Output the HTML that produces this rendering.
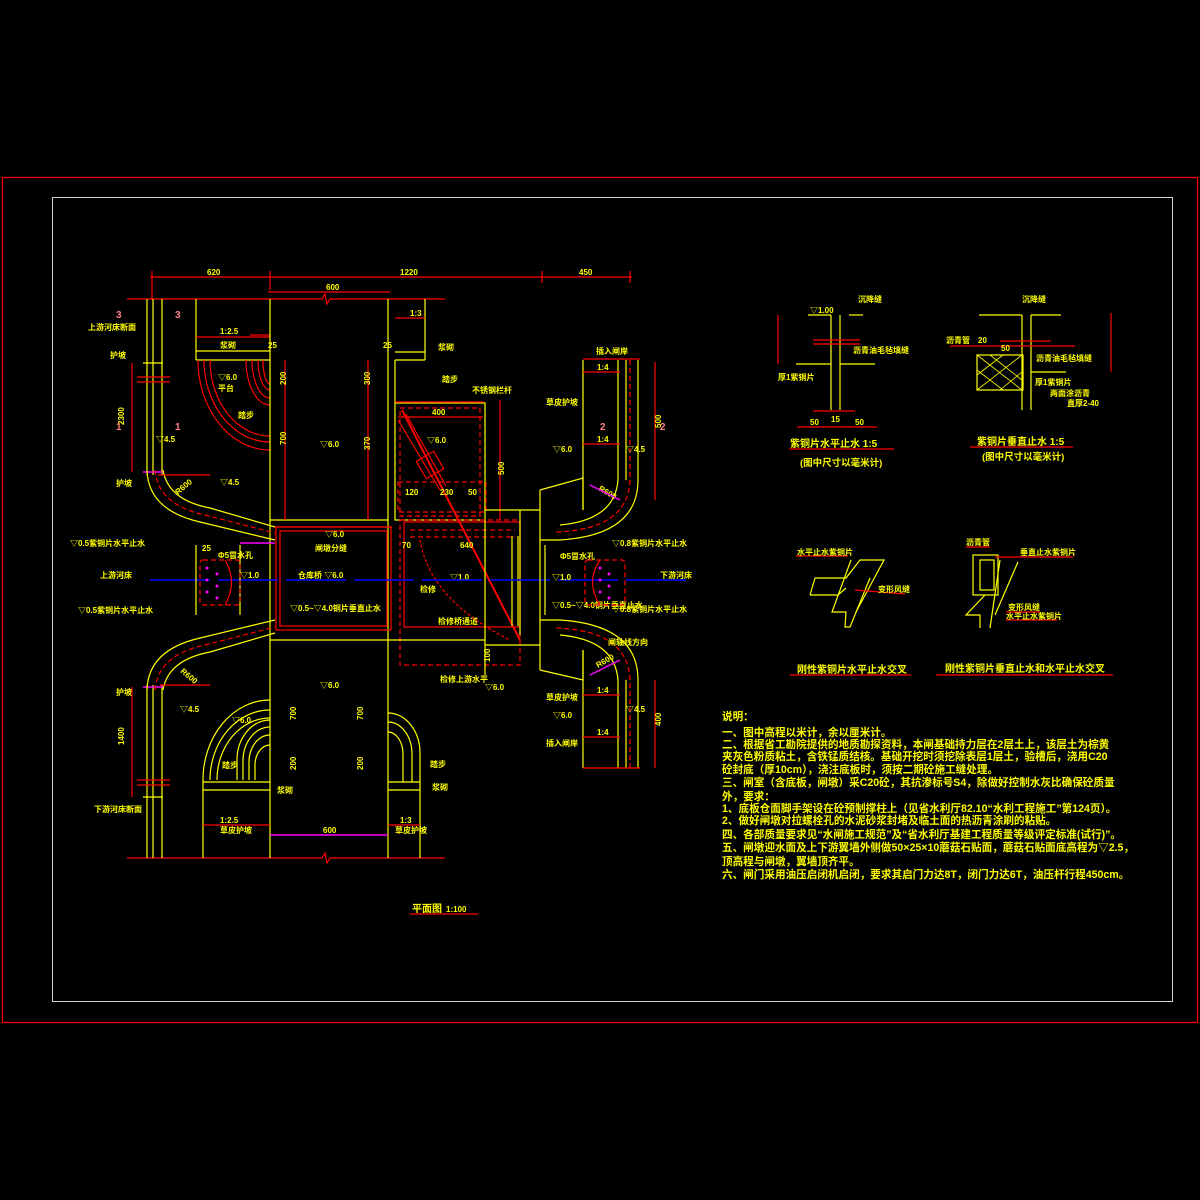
<!DOCTYPE html>
<html><head><meta charset="utf-8"><style>
html,body{margin:0;padding:0;background:#000;}
svg{display:block}
text{font-family:"Liberation Sans","Noto Sans CJK SC",sans-serif;font-weight:bold;}
.y{stroke:#ffff00;fill:none;stroke-width:1.2}
.r{stroke:#ff0000;fill:none;stroke-width:1.2}
.rd{stroke:#ff0000;fill:none;stroke-width:1.2;stroke-dasharray:5 3}
.m{stroke:#ff00ff;fill:none;stroke-width:1.5}
.b{stroke:#0000ff;fill:none;stroke-width:1.6}
.t{fill:#ffff00;font-size:8px}
.tp{fill:#ff8080;font-size:10px}
.n{fill:#ffff00;font-size:10.6px}
</style></head><body>
<svg width="1200" height="1200" viewBox="0 0 1200 1200" xmlns="http://www.w3.org/2000/svg">
<rect x="0" y="0" width="1200" height="1200" fill="#000"/>
<rect x="2.5" y="177.5" width="1195" height="845" fill="none" stroke="#ff0000" stroke-width="1.2"/>
<rect x="52.5" y="197.5" width="1120" height="804" fill="none" stroke="#d0d0d0" stroke-width="1"/>

<!-- top dims -->
<line class="r" x1="150" y1="277" x2="632" y2="277"/>
<g class="r"><line x1="152" y1="271" x2="152" y2="300"/><line x1="270" y1="271" x2="270" y2="290"/><line x1="542" y1="271" x2="542" y2="283"/><line x1="630" y1="271" x2="630" y2="283"/></g>
<text class="t" x="207" y="275">620</text><text class="t" x="400" y="275">1220</text><text class="t" x="579" y="275">450</text>
<line class="r" x1="268" y1="292" x2="390" y2="292"/><text class="t" x="326" y="290">600</text>
<polyline class="r" points="127,299 322,299 325,294 327,304 330,299 445,299"/>
<polyline class="r" points="127,858 322,858 325,853 327,863 330,858 445,858"/>

<!-- left channel -->
<g class="y"><line x1="147" y1="299" x2="147" y2="475"/><line x1="153" y1="299" x2="153" y2="475"/><line x1="162" y1="299" x2="162" y2="475"/>
<line x1="147" y1="685" x2="147" y2="858"/><line x1="153" y1="685" x2="153" y2="858"/><line x1="162" y1="685" x2="162" y2="858"/>
<line x1="143" y1="363" x2="163" y2="363"/><line x1="143" y1="797" x2="163" y2="797"/></g>
<g class="r"><line x1="137" y1="377" x2="170" y2="377"/><line x1="137" y1="382" x2="170" y2="382"/><line x1="137" y1="780" x2="170" y2="780"/><line x1="137" y1="785" x2="170" y2="785"/>
<line x1="132" y1="363" x2="132" y2="472"/><line x1="132" y1="687" x2="132" y2="797"/></g>
<line class="m" x1="143" y1="472" x2="163" y2="472"/><line class="m" x1="143" y1="687" x2="163" y2="687"/>
<text class="t" x="124" y="425" transform="rotate(-90 124 425)">2300</text>
<text class="t" x="124" y="745" transform="rotate(-90 124 745)">1400</text>
<text class="tp" x="116" y="318">3</text><text class="tp" x="175" y="318">3</text>
<text class="tp" x="116" y="430">1</text><text class="tp" x="175" y="430">1</text>
<text class="t" x="88" y="330">上游河床断面</text><text class="t" x="110" y="358">护坡</text>
<text class="t" x="116" y="486">护坡</text><text class="t" x="116" y="695">护坡</text><text class="t" x="94" y="812">下游河床断面</text>
<text class="t" x="156" y="442">▽4.5</text><text class="t" x="220" y="485">▽4.5</text><text class="t" x="180" y="712">▽4.5</text>

<!-- upper-left wing box -->
<g class="y"><line x1="196" y1="299" x2="196" y2="360"/><line x1="196" y1="351" x2="270" y2="351"/><line x1="196" y1="360" x2="270" y2="360"/></g>
<line class="r" x1="196" y1="337" x2="270" y2="337"/><line class="r" x1="250" y1="335" x2="270" y2="335"/>
<text class="t" x="220" y="334">1:2.5</text><text class="t" x="220" y="348">浆砌</text>
<text class="t" x="218" y="380">▽6.0</text><text class="t" x="218" y="391">平台</text><text class="t" x="238" y="418">踏步</text>
<g class="r"><path d="M198,360 A72,90 0 0 0 270,450"/><path d="M204,360 A66,82 0 0 0 270,442"/><path d="M210,360 A60,76 0 0 0 270,436"/>
<path d="M246,360 A24,45 0 0 0 270,405"/><path d="M252,360 A18,38 0 0 0 270,398"/><path d="M258,360 A12,30 0 0 0 270,390"/><path d="M263,360 A7,24 0 0 0 270,384"/></g>

<!-- central column -->
<g class="y"><line x1="270" y1="299" x2="270" y2="858"/><line x1="388" y1="299" x2="388" y2="858"/>
<line x1="270" y1="520" x2="388" y2="520"/><line x1="270" y1="640" x2="388" y2="640"/></g>
<line class="r" x1="285" y1="360" x2="285" y2="520"/><line class="r" x1="368" y1="360" x2="368" y2="520"/>
<text class="t" x="320" y="447">▽6.0</text><text class="t" x="320" y="688">▽6.0</text>
<text class="t" x="286" y="385" transform="rotate(-90 286 385)">200</text><text class="t" x="286" y="445" transform="rotate(-90 286 445)">700</text>
<text class="t" x="370" y="385" transform="rotate(-90 370 385)">300</text><text class="t" x="370" y="450" transform="rotate(-90 370 450)">370</text>
<text class="t" x="296" y="720" transform="rotate(-90 296 720)">700</text><text class="t" x="363" y="720" transform="rotate(-90 363 720)">700</text>
<text class="t" x="296" y="770" transform="rotate(-90 296 770)">200</text><text class="t" x="363" y="770" transform="rotate(-90 363 770)">200</text>
<text class="t" x="268" y="348">25</text><text class="t" x="383" y="348">25</text>

<!-- upper right of center column -->
<g class="y"><line x1="425" y1="299" x2="425" y2="360"/><line x1="395" y1="352" x2="425" y2="352"/><line x1="395" y1="360" x2="425" y2="360"/><line x1="395" y1="360" x2="395" y2="403"/></g>
<line class="r" x1="395" y1="318" x2="425" y2="318"/><text class="t" x="410" y="316">1:3</text>
<text class="t" x="438" y="350">浆砌</text><text class="t" x="442" y="382">踏步</text><text class="t" x="472" y="393">不锈钢栏杆</text>

<!-- gate/hoist box -->
<rect class="y" x="395" y="403" width="90" height="117"/>
<line class="r" x1="395" y1="402" x2="484" y2="402" stroke-width="2.5"/>
<rect class="rd" x="400" y="408" width="80" height="108"/>
<line class="r" x1="398" y1="417" x2="483" y2="417"/><text class="t" x="432" y="415">400</text>
<text class="t" x="427" y="443">▽6.0</text>
<g class="r"><line x1="402" y1="410" x2="520" y2="640" stroke-width="2"/><line x1="398" y1="420" x2="440" y2="490"/><line x1="406" y1="414" x2="446" y2="486"/>
<rect x="420" y="455" width="20" height="20" transform="rotate(-30 430 465)"/></g>
<rect class="rd" x="398" y="482" width="88" height="30"/>
<text class="t" x="405" y="495">120</text><text class="t" x="440" y="495">230</text><text class="t" x="468" y="495">50</text>
<line class="r" x1="500" y1="400" x2="500" y2="520"/><text class="t" x="504" y="475" transform="rotate(-90 504 475)">500</text>

<!-- main chamber -->
<rect class="r" x="276" y="527" width="115" height="103" stroke-width="2"/>
<rect class="r" x="280" y="531" width="107" height="95"/>
<rect class="rd" x="400" y="520" width="120" height="145"/>
<rect class="r" x="404" y="522" width="116" height="105"/>
<line class="rd" x1="410" y1="530" x2="515" y2="530"/><line class="rd" x1="410" y1="537" x2="515" y2="537"/>
<line class="r" x1="275" y1="527" x2="392" y2="527"/>
<text class="t" x="325" y="537">▽6.0</text><text class="t" x="315" y="551">闸墩分缝</text>
<text class="t" x="298" y="578">仓库桥 ▽6.0</text><text class="t" x="290" y="611">▽0.5~▽4.0铜片垂直止水</text>
<text class="t" x="450" y="580">▽1.0</text><text class="t" x="420" y="592">检修</text><text class="t" x="438" y="624">检修桥通道</text>
<text class="t" x="460" y="548">640</text><text class="t" x="402" y="548">70</text>
<text class="t" x="440" y="682">检修上游水平</text><text class="t" x="485" y="690">▽6.0</text>
<path class="r" d="M420,540 Q430,600 510,640" stroke-dasharray="3 2"/>
<g class="y"><line x1="485" y1="520" x2="485" y2="675"/><line x1="520" y1="510" x2="520" y2="635"/>
<line x1="388" y1="640" x2="485" y2="640"/><line x1="485" y1="510" x2="540" y2="510"/><line x1="485" y1="645" x2="540" y2="645"/>
<line x1="512" y1="536" x2="512" y2="626"/><line x1="518" y1="536" x2="518" y2="626"/></g>
<text class="t" x="490" y="662" transform="rotate(-90 490 662)">100</text>

<!-- blue axis -->
<line class="b" x1="150" y1="580" x2="690" y2="580" stroke-dasharray="60 8"/>
<text class="t" x="100" y="578">上游河床</text><text class="t" x="660" y="578">下游河床</text>

<!-- left wings -->
<g class="y"><path d="M147,470 Q148,510 200,522 L275,540"/><path d="M163,470 Q168,500 210,508 L275,527"/>
<path d="M147,690 Q148,650 200,638 L275,620"/><path d="M163,690 Q168,660 210,652 L275,633"/>
<line x1="196" y1="545" x2="196" y2="615"/><line x1="240" y1="545" x2="240" y2="615"/></g>
<g class="rd"><path d="M155,470 Q158,505 205,515 L275,533"/><path d="M155,690 Q158,655 205,645 L275,627"/></g>
<line class="r" x1="158" y1="475" x2="210" y2="475"/><line class="r" x1="160" y1="685" x2="210" y2="685"/>
<text class="t" x="178" y="495" transform="rotate(-40 178 495)">R600</text><text class="t" x="180" y="672" transform="rotate(40 180 672)">R600</text>
<rect class="rd" x="200" y="560" width="40" height="45" rx="3"/>
<path class="r" d="M225,560 Q238,582 225,605"/>
<g fill="#ff00ff"><circle cx="207" cy="568" r="1.5"/><circle cx="207" cy="580" r="1.5"/><circle cx="207" cy="592" r="1.5"/><circle cx="217" cy="574" r="1.5"/><circle cx="217" cy="586" r="1.5"/><circle cx="217" cy="598" r="1.5"/></g>
<text class="t" x="218" y="558">Φ5冒水孔</text><text class="t" x="202" y="551">25</text><text class="t" x="240" y="578">▽1.0</text>
<text class="t" x="70" y="546">▽0.5紫铜片水平止水</text><text class="t" x="78" y="613">▽0.5紫铜片水平止水</text>
<line class="m" x1="240" y1="543" x2="275" y2="543"/>

<!-- lower-left wing -->
<g class="y"><path d="M203,858 L203,780 A67,80 0 0 1 270,700"/><path d="M210,780 A60,70 0 0 1 270,710"/><path d="M217,780 A53,62 0 0 1 270,718"/>
<path d="M237,780 L237,760 A33,40 0 0 1 270,720"/><path d="M243,780 L243,760 A27,34 0 0 1 270,727"/><path d="M249,780 L249,762 A21,27 0 0 1 270,735"/><path d="M255,780 L255,765 A15,20 0 0 1 270,745"/>
<line x1="203" y1="782" x2="270" y2="782"/><line x1="203" y1="790" x2="270" y2="790"/>
<path d="M388,713 A32,40 0 0 1 420,753 L420,858"/><path d="M388,722 A24,32 0 0 1 412,754 L412,782"/><path d="M388,732 A15,22 0 0 1 403,754 L403,782"/>
<line x1="388" y1="782" x2="420" y2="782"/><line x1="388" y1="790" x2="420" y2="790"/></g>
<text class="t" x="232" y="723">▽6.0</text><text class="t" x="222" y="768">踏步</text><text class="t" x="277" y="793">浆砌</text><text class="t" x="430" y="767">踏步</text><text class="t" x="432" y="790">浆砌</text>
<line class="r" x1="203" y1="825" x2="270" y2="825"/><text class="t" x="220" y="823">1:2.5</text><text class="t" x="220" y="833">草皮护坡</text>
<line class="r" x1="388" y1="825" x2="420" y2="825"/><text class="t" x="400" y="823">1:3</text><text class="t" x="395" y="833">草皮护坡</text>
<line class="m" x1="270" y1="835" x2="388" y2="835"/><text class="t" x="323" y="833">600</text>
<text class="t" x="412" y="912" style="font-size:10px">平面图</text><text class="t" x="446" y="912">1:100</text>
<line class="r" x1="410" y1="914" x2="478" y2="914"/>

<!-- right wing -->
<g class="y"><line x1="583" y1="360" x2="583" y2="510"/><line x1="626" y1="360" x2="626" y2="480"/><line x1="583" y1="650" x2="583" y2="768"/><line x1="626" y1="680" x2="626" y2="768"/>
<path d="M638,360 L638,480 Q638,535 560,540 L540,540"/><path d="M618,360 L618,480 Q615,520 560,525"/>
<path d="M638,768 L638,680 Q638,625 560,620 L540,620"/><path d="M618,768 L618,680 Q615,640 560,635"/>
<polyline points="540,490 583,478 583,510"/><polyline points="540,670 583,680 583,650"/>
<line x1="540" y1="490" x2="540" y2="670"/><line x1="545" y1="545" x2="545" y2="615"/></g>
<g class="rd"><path d="M630,360 L630,480 Q628,530 555,532"/><path d="M630,768 L630,680 Q628,630 555,628"/></g>
<line class="r" x1="583" y1="359" x2="640" y2="359"/><line class="r" x1="583" y1="768" x2="640" y2="768"/>
<line class="r" x1="583" y1="372" x2="620" y2="372"/><line class="r" x1="583" y1="444" x2="620" y2="444"/>
<line class="r" x1="583" y1="695" x2="620" y2="695"/><line class="r" x1="583" y1="737" x2="620" y2="737"/>
<text class="t" x="597" y="370">1:4</text><text class="t" x="597" y="442">1:4</text><text class="t" x="597" y="693">1:4</text><text class="t" x="597" y="735">1:4</text>
<line class="r" x1="655" y1="362" x2="655" y2="500"/><line class="r" x1="655" y1="680" x2="655" y2="768"/>
<text class="t" x="661" y="428" transform="rotate(-90 661 428)">500</text><text class="t" x="661" y="726" transform="rotate(-90 661 726)">400</text>
<text class="tp" x="600" y="430">2</text><text class="tp" x="660" y="430">2</text>
<text class="t" x="596" y="354">插入闸岸</text><text class="t" x="546" y="405">草皮护坡</text>
<text class="t" x="553" y="452">▽6.0</text><text class="t" x="626" y="452">▽4.5</text>
<text class="t" x="553" y="718">▽6.0</text><text class="t" x="626" y="712">▽4.5</text>
<text class="t" x="546" y="700">草皮护坡</text><text class="t" x="546" y="746">插入闸岸</text>
<text class="t" x="608" y="645">闸轴线方向</text>
<text class="t" x="598" y="490" transform="rotate(30 598 490)">R600</text><text class="t" x="598" y="668" transform="rotate(-30 598 668)">R600</text>
<line class="m" x1="590" y1="485" x2="620" y2="500"/><line class="m" x1="590" y1="675" x2="620" y2="660"/>
<text class="t" x="612" y="546">▽0.8紫铜片水平止水</text><text class="t" x="612" y="612">▽0.8紫铜片水平止水</text>
<text class="t" x="560" y="559">Φ5冒水孔</text><text class="t" x="552" y="580">▽1.0</text><text class="t" x="552" y="608">▽0.5~▽4.0铜片垂直止水</text>
<rect class="rd" x="585" y="560" width="40" height="45" rx="3"/>
<path class="r" d="M600,560 Q585,582 600,605"/>
<g fill="#ff00ff"><circle cx="600" cy="568" r="1.5"/><circle cx="600" cy="580" r="1.5"/><circle cx="600" cy="592" r="1.5"/><circle cx="609" cy="574" r="1.5"/><circle cx="609" cy="586" r="1.5"/><circle cx="609" cy="598" r="1.5"/></g>

<!-- detail 1 -->
<g class="y"><line x1="831" y1="315" x2="831" y2="410"/><line x1="840" y1="315" x2="840" y2="410"/><line x1="808" y1="315" x2="831" y2="315"/><line x1="849" y1="315" x2="863" y2="315"/>
<line x1="796" y1="364" x2="831" y2="364"/><line x1="840" y1="364" x2="875" y2="364"/></g>
<line class="r" x1="813" y1="340" x2="860" y2="340"/><line class="r" x1="813" y1="344" x2="860" y2="344"/><line class="r" x1="813" y1="411" x2="855" y2="411"/>
<line class="r" x1="797" y1="427" x2="877" y2="427"/><line class="r" x1="778" y1="315" x2="778" y2="364"/>
<text class="t" x="810" y="313">▽1.00</text><text class="t" x="858" y="302">沉降缝</text><text class="t" x="853" y="353">沥青油毛毡填缝</text><text class="t" x="778" y="380">厚1紫铜片</text>
<text class="t" x="810" y="425">50</text><text class="t" x="831" y="422">15</text><text class="t" x="855" y="425">50</text>
<text class="t" x="790" y="447" style="font-size:10px">紫铜片水平止水 1:5</text><line class="r" x1="789" y1="449" x2="894" y2="449"/>
<text class="t" x="800" y="466" style="font-size:9.5px">(图中尺寸以毫米计)</text>

<!-- detail 2 -->
<g class="y"><line x1="1022" y1="315" x2="1022" y2="410"/><line x1="1031" y1="315" x2="1031" y2="410"/><line x1="979" y1="315" x2="1022" y2="315"/><line x1="1031" y1="315" x2="1061" y2="315"/>
<rect x="977" y="355" width="46" height="35"/><line x1="1031" y1="372" x2="1066" y2="372"/></g>
<path d="M977,355 L1022,390 M990,355 L1022,380 M977,370 L1003,390 M977,390 L1022,355 M977,375 L1003,355 M1000,390 L1022,372" stroke="#ff0" stroke-width="0.8"/>
<line class="r" x1="1000" y1="341" x2="1051" y2="341"/><line class="r" x1="950" y1="346" x2="1075" y2="346"/><line class="r" x1="1111" y1="313" x2="1111" y2="372"/>
<text class="t" x="1022" y="302">沉降缝</text><text class="t" x="946" y="343">沥青管</text><text class="t" x="978" y="343">20</text><text class="t" x="1001" y="351">50</text>
<text class="t" x="1036" y="361">沥青油毛毡填缝</text><text class="t" x="1035" y="385">厚1紫铜片</text><text class="t" x="1050" y="396">两面涂沥青</text><text class="t" x="1067" y="406">直厚2-40</text>
<text class="t" x="977" y="445" style="font-size:10px">紫铜片垂直止水 1:5</text><line class="r" x1="970" y1="447" x2="1073" y2="447"/>
<text class="t" x="982" y="460" style="font-size:9.5px">(图中尺寸以毫米计)</text>

<!-- detail 3 -->
<g class="y"><polyline points="815,578 846,578 860,560 884,560 856,612"/><polyline points="810,595 838,595 846,588"/><line x1="815" y1="578" x2="810" y2="595"/>
<polyline points="851,560 832,612 846,612 845,627 850,627 870,578"/></g>
<line class="r" x1="796" y1="556" x2="848" y2="556"/><line class="r" x1="855" y1="590" x2="905" y2="594"/>
<text class="t" x="797" y="555">水平止水紫铜片</text><text class="t" x="878" y="592">变形风缝</text>
<text class="t" x="797" y="673" style="font-size:10px">刚性紫铜片水平止水交叉</text><line class="r" x1="790" y1="675" x2="911" y2="675"/>

<!-- detail 4 -->
<g class="y"><rect x="973" y="555" width="25" height="40"/><rect x="980" y="560" width="14" height="30"/><polyline points="985,595 966,615 980,615 980,628"/><line x1="1000" y1="560" x2="990" y2="628"/><line x1="1018" y1="562" x2="995" y2="615"/></g>
<line class="r" x1="966" y1="547" x2="990" y2="547"/><line class="r" x1="995" y1="557" x2="1073" y2="557"/><line class="r" x1="1006" y1="612" x2="1040" y2="612"/><line class="r" x1="1006" y1="620" x2="1057" y2="620"/>
<text class="t" x="966" y="545">沥青管</text><text class="t" x="1020" y="555">垂直止水紫铜片</text><text class="t" x="1008" y="610">变形风缝</text><text class="t" x="1006" y="619">水平止水紫铜片</text>
<text class="t" x="945" y="672" style="font-size:10px">刚性紫铜片垂直止水和水平止水交叉</text><line class="r" x1="936" y1="675" x2="1113" y2="675"/>

<!-- notes -->
<g class="n">
<text x="722" y="720">说明：</text>
<text x="722" y="736">一、图中高程以米计，余以厘米计。</text>
<text x="722" y="748">二、根据省工勘院提供的地质勘探资料，本闸基础持力层在2层土上，该层土为棕黄</text>
<text x="722" y="760">夹灰色粉质粘土，含铁锰质结核。基础开挖时须挖除表层1层土，验槽后，浇用C20</text>
<text x="722" y="773">砼封底（厚10cm），浇注底板时，须按二期砼施工缝处理。</text>
<text x="722" y="786">三、闸室（含底板，闸墩）采C20砼，其抗渗标号S4，除做好控制水灰比确保砼质量</text>
<text x="722" y="800">外，要求：</text>
<text x="722" y="812">1、底板仓面脚手架设在砼预制撑柱上（见省水利厅82.10“水利工程施工”第124页）。</text>
<text x="722" y="824">2、做好闸墩对拉螺栓孔的水泥砂浆封堵及临土面的热沥青涂刷的粘贴。</text>
<text x="722" y="838">四、各部质量要求见“水闸施工规范”及“省水利厅基建工程质量等级评定标准(试行)”。</text>
<text x="722" y="851">五、闸墩迎水面及上下游翼墙外侧做50×25×10蘑菇石贴面，蘑菇石贴面底高程为▽2.5，</text>
<text x="722" y="865">顶高程与闸墩，翼墙顶齐平。</text>
<text x="722" y="878">六、闸门采用油压启闭机启闭，要求其启门力达8T，闭门力达6T，油压杆行程450cm。</text>
</g>
</svg>
</body></html>
